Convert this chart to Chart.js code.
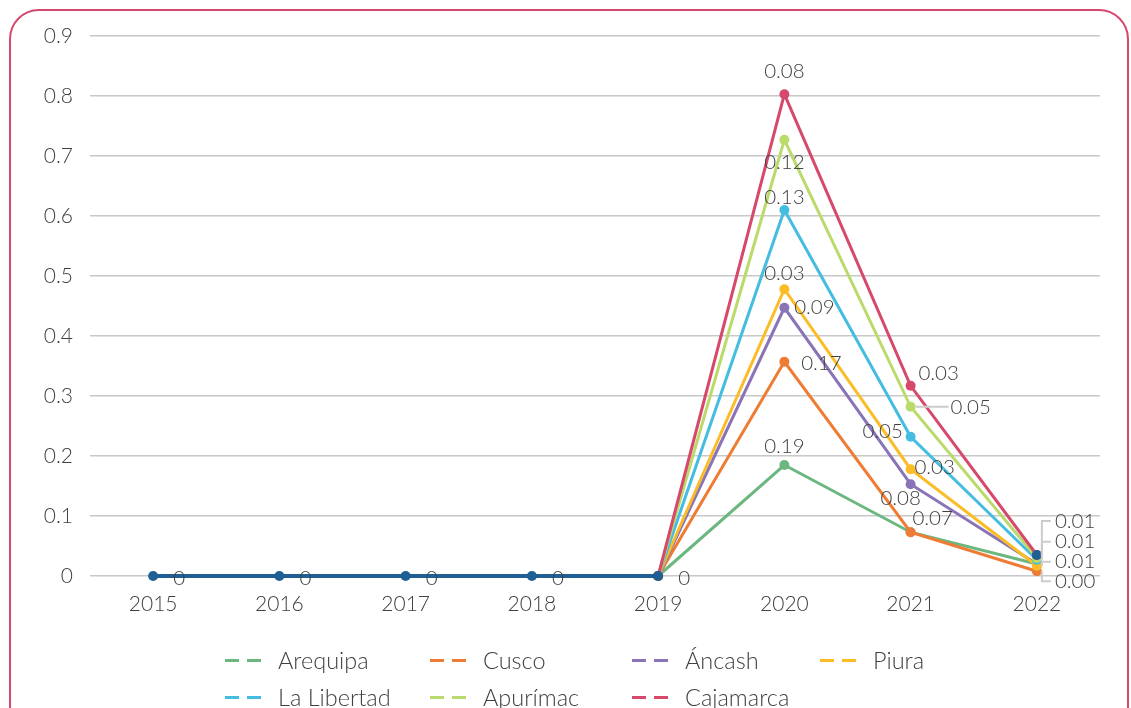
<!DOCTYPE html>
<html>
<head>
<meta charset="utf-8">
<script src="https://cdn.jsdelivr.net/npm/chart.js@4"></script>
<style>
  html, body { margin:0; padding:0; background:#fff; width:1131px; height:708px; overflow:hidden; font-family: Lato, "Open Sans", sans-serif; }
  #frame { position:absolute; left:9px; top:9px; width:1120px; height:780px; box-sizing:border-box; border:2.5px solid #d6496b; border-radius:30px; }
  #wrap { position:absolute; left:0; top:0; width:1131px; height:630px; }
  #legend { position:absolute; left:0; top:0; width:1131px; height:708px; pointer-events:none; }
  .item { position:absolute; display:flex; align-items:center; font-size:23.5px; color:#404040; font-weight:300; white-space:nowrap; }
  .mk { display:flex; width:36px; height:3px; margin-right:17px; justify-content:space-between; }
  .mk span { width:14px; height:3px; display:block; }
</style>
</head>
<body>
<div id="frame"></div>
<div id="wrap"><canvas id="c" width="1131" height="630"></canvas></div>
<div id="legend"></div>
<script>
// ---- data ----
const years = ["2015","2016","2017","2018","2019","2020","2021","2022"];
const yTicks = [0, 0.1, 0.2, 0.3, 0.4, 0.5, 0.6, 0.7, 0.8, 0.9];

const arequipa   = [null, null, null, null, 0, 0.185, 0.073, 0.020];
const cusco      = [null, null, null, null, 0, 0.357, 0.073, 0.008];
const ancash     = [null, null, null, null, 0, 0.447, 0.153, 0.020];
const piura      = [null, null, null, null, 0, 0.478, 0.178, 0.017];
const laLibertad = [null, null, null, null, 0, 0.610, 0.232, 0.027];
const apurimac   = [null, null, null, null, 0, 0.727, 0.282, 0.030];
const cajamarca  = [null, null, null, null, 0, 0.803, 0.317, 0.035];
const otros      = [0, 0, 0, 0, 0, null, null, 0.035];

// data label texts shown on the points
const lblArequipa   = [null, null, null, null, null, "0.19", null, null];
const lblCusco      = [null, null, null, null, null, "0.17", "0.07", "0.00"];
const lblAncash     = [null, null, null, null, null, "0.09", "0.08", null];
const lblPiura      = [null, null, null, null, null, "0.03", "0.03", "0.01"];
const lblLaLibertad = [null, null, null, null, null, "0.13", "0.05", "0.01"];
const lblApurimac   = [null, null, null, null, null, "0.12", "0.05", null];
const lblCajamarca  = [null, null, null, null, null, "0.08", "0.03", "0.01"];
const lblOtros      = ["0", "0", "0", "0", "0", null, null, null];

// ---- label placement (style only) ----
// [dx, dy, align, leader]  leader: 'h' horizontal line, 'b' bracket
const posArequipa   = {5:[0,-19,'center']};
const posCusco      = {5:[37,2,'center'], 6:[22,-14,'center'], 7:[18,10,'left','b']};
const posAncash     = {5:[30,0,'center'], 6:[-10,14,'center']};
const posPiura      = {5:[0,-16,'center'], 6:[24,-2,'center'], 7:[18,-4,'left','b']};
const posLaLibertad = {5:[0,-13,'center'], 6:[-28,-5,'center'], 7:[18,-18,'left','b']};
const posApurimac   = {5:[0,23,'center'], 6:[60,1,'center','h']};
const posCajamarca  = {5:[0,-23,'center'], 6:[28,-12,'center'], 7:[18,-34,'left','b']};
const posOtros      = {0:[26,2,'center'],1:[26,2,'center'],2:[26,2,'center'],3:[26,2,'center'],4:[26,2,'center']};

const series = [
  {name:"Arequipa",    data:arequipa,   labels:lblArequipa,   pos:posArequipa,   color:"#6cb77f", legend:true},
  {name:"Cusco",       data:cusco,      labels:lblCusco,      pos:posCusco,      color:"#ef7c35", legend:true},
  {name:"Áncash",      data:ancash,     labels:lblAncash,     pos:posAncash,     color:"#8a74b8", legend:true},
  {name:"Piura",       data:piura,      labels:lblPiura,      pos:posPiura,      color:"#fbbc25", legend:true},
  {name:"La Libertad", data:laLibertad, labels:lblLaLibertad, pos:posLaLibertad, color:"#45bde0", legend:true},
  {name:"Apurímac",    data:apurimac,   labels:lblApurimac,   pos:posApurimac,   color:"#badb6b", legend:true},
  {name:"Cajamarca",   data:cajamarca,  labels:lblCajamarca,  pos:posCajamarca,  color:"#d6496b", legend:true},
  {name:"Otros",       data:otros,      labels:lblOtros,      pos:posOtros,      color:"#1f5f94", legend:false}
];

const FONT = 'Lato, "Open Sans", sans-serif';
const TXT = '#404040';

const labelPlugin = {
  id: 'pointLabels',
  afterDatasetsDraw(chart) {
    const ctx = chart.ctx;
    ctx.save();
    ctx.font = '300 20.5px ' + FONT;
    ctx.fillStyle = TXT;
    ctx.textBaseline = 'middle';
    series.forEach((s, i) => {
      const meta = chart.getDatasetMeta(i);
      s.labels.forEach((t, j) => {
        if (t == null) return;
        const pt = meta.data[j];
        const p = s.pos[j] || [0,-15,'center'];
        const x = pt.x + p[0], y = pt.y + p[1];
        if (p[3] === 'h') {
          ctx.strokeStyle = '#cccccc'; ctx.lineWidth = 2;
          ctx.beginPath(); ctx.moveTo(pt.x + 5, pt.y); ctx.lineTo(pt.x + 38, pt.y); ctx.stroke();
        } else if (p[3] === 'b') {
          ctx.strokeStyle = '#cccccc'; ctx.lineWidth = 2;
          ctx.beginPath(); ctx.moveTo(pt.x + 5, pt.y); ctx.lineTo(pt.x + 5, y); ctx.lineTo(pt.x + 14, y); ctx.stroke();
        }
        ctx.textAlign = p[2];
        ctx.fillText(t, x, y);
      });
    });
    ctx.restore();
  }
};

const chart = new Chart(document.getElementById('c'), {
  type: 'line',
  data: {
    labels: years,
    datasets: series.map((s, i) => ({
      label: s.name,
      data: s.data,
      borderColor: s.color,
      backgroundColor: s.color,
      borderWidth: s.legend ? 3 : 4,
      pointRadius: 5,
      pointHoverRadius: 5,
      pointBorderWidth: 0,
      spanGaps: false,
      tension: 0,
      clip: false,
      order: s.legend ? 10 - i : 0
    }))
  },
  options: {
    responsive: false,
    animation: false,
    layout: { padding: { top: 36, right: 31, left: 0, bottom: 0 } },
    plugins: { legend: { display: false }, tooltip: { enabled: false } },
    scales: {
      x: {
        offset: true,
        grid: { display: false },
        border: { display: false },
        ticks: { color: TXT, font: { family: FONT, size: 21, weight: 300 }, padding: 8 },
        afterFit(scale) { scale.height = 54; }
      },
      y: {
        min: 0, max: 0.9,
        afterBuildTicks(scale) { scale.ticks = yTicks.map(v => ({ value: v })); },
        grid: { color: '#c8c8c8', lineWidth: 1.5, drawTicks: false },
        border: { display: false },
        ticks: { color: TXT, font: { family: FONT, size: 21, weight: 300 }, padding: 17,
                 callback: v => String(Math.round(v * 10) / 10) },
        afterFit(scale) { scale.width = 90; }
      }
    }
  },
  plugins: [labelPlugin]
});

// HTML legend built from series
const legendPos = [[225,661],[430,661],[632,661],[820,661],[225,698],[430,698],[632,698]];
const lg = document.getElementById('legend');
series.filter(s => s.legend).forEach((s, k) => {
  const d = document.createElement('div');
  d.className = 'item';
  d.style.left = legendPos[k][0] + 'px';
  d.style.top = (legendPos[k][1] - 15) + 'px';
  d.innerHTML = '<div class="mk"><span style="background:' + s.color + '"></span><span style="background:' + s.color + '"></span></div>' + s.name;
  lg.appendChild(d);
});
</script>
</body>
</html>
